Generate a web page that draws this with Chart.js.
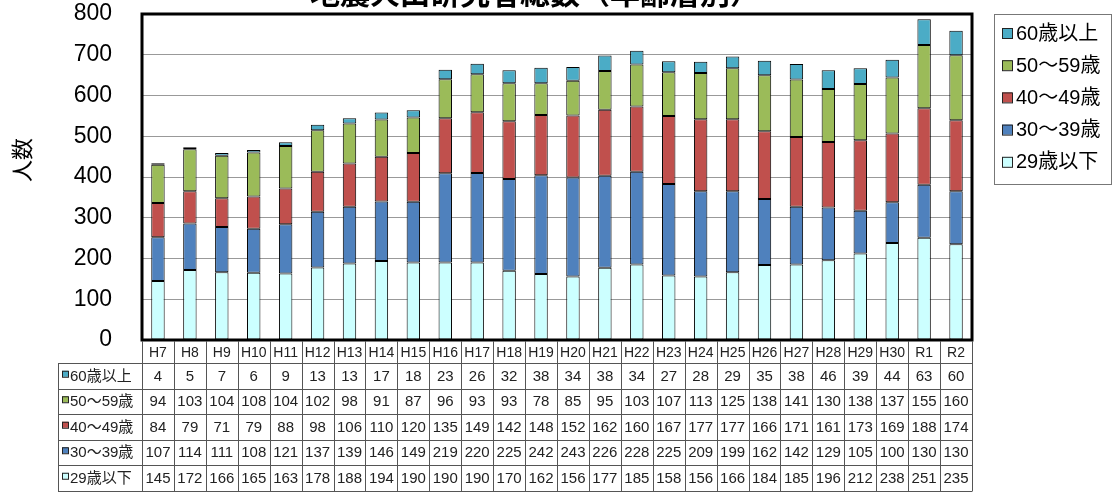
<!DOCTYPE html>
<html>
<head>
<meta charset="utf-8">
<script src="https://cdn.jsdelivr.net/npm/chart.js@4/dist/chart.umd.min.js"></script>
<style>
  html, body { margin: 0; padding: 0; background: #fff; }
  #wrap { width: 1118px; height: 493px; }
</style>
</head>
<body>
<div id="wrap"><canvas id="grafico"></canvas></div>
<script>
// ======== DADOS =========
const nendo = ['H7','H8','H9','H10','H11','H12','H13','H14','H15','H16','H17','H18','H19','H20','H21','H22','H23','H24','H25','H26','H27','H28','H29','H30','R1','R2'];
const age60 = [4,5,7,6,9,13,13,17,18,23,26,32,38,34,38,34,27,28,29,35,38,46,39,44,63,60];
const age50 = [94,103,104,108,104,102,98,91,87,96,93,93,78,85,95,103,107,113,125,138,141,130,138,137,155,160];
const age40 = [84,79,71,79,88,98,106,110,120,135,149,142,148,152,162,160,167,177,177,166,171,161,173,169,188,174];
const age30 = [107,114,111,108,121,137,139,146,149,219,220,225,242,243,226,228,225,209,199,162,142,129,105,100,130,130];
const age29 = [145,172,166,165,163,178,188,194,190,190,190,170,162,156,177,185,158,156,166,184,185,196,212,238,251,235];
const yTicks = [0,100,200,300,400,500,600,700,800];

const FONT = '"Liberation Sans", "Noto Sans CJK JP", sans-serif';

// ======== PLUGINS =========
// título cortado no topo + título do eixo y
const titulosPlugin = {
  id: 'titulos',
  afterDraw(chart) {
    const c = chart.ctx;
    c.save();
    c.font = 'bold 30px "Noto Sans CJK JP", sans-serif';
    c.fillStyle = '#000';
    c.textAlign = 'center';
    c.textBaseline = 'alphabetic';
    c.fillText('地震火山研究者総数（年齢層別）', 535, 4);
    c.translate(22, 160);
    c.rotate(-Math.PI / 2);
    c.textBaseline = 'middle';
    c.font = '22px "Noto Sans CJK JP", sans-serif';
    c.fillText('人数', 0, 0);
    c.restore();
  }
};

// moldura da área do gráfico
const molduraPlugin = {
  id: 'moldura',
  afterDatasetsDraw(chart) {
    const a = chart.chartArea, c = chart.ctx;
    c.save();
    c.strokeStyle = '#000';
    c.lineWidth = 3;
    c.strokeRect(a.left, a.top, a.right - a.left, a.bottom - a.top);
    c.restore();
  }
};

// tabela de dados abaixo do gráfico
const tabelaPlugin = {
  id: 'tabela',
  afterDraw(chart) {
    const c = chart.ctx, x = chart.scales.x, a = chart.chartArea;
    const n = nendo.length;
    const colW = (a.right - a.left) / n;
    const headH = 22, rowH = 25.5;
    const labelLeft = 58;
    const top = a.bottom + 1;
    const ds = chart.data.datasets.slice().reverse();
    c.save();
    c.strokeStyle = '#555';
    c.lineWidth = 1;
    c.beginPath();
    c.moveTo(a.left, top + headH + 0.5);
    c.lineTo(a.right, top + headH + 0.5);
    for (let r = 0; r <= ds.length; r++) {
      const y = Math.round(top + headH + r * rowH) + 0.5;
      c.moveTo(labelLeft, y);
      c.lineTo(a.right, y);
    }
    const bottom = Math.round(top + headH + ds.length * rowH) + 0.5;
    for (let i = 0; i <= n; i++) {
      const xx = Math.round(a.left + i * colW) + 0.5;
      c.moveTo(xx, top);
      c.lineTo(xx, bottom);
    }
    c.moveTo(labelLeft + 0.5, top + headH);
    c.lineTo(labelLeft + 0.5, bottom);
    c.stroke();

    c.fillStyle = '#222';
    c.textAlign = 'center';
    c.textBaseline = 'middle';
    c.font = '14px ' + FONT;
    nendo.forEach((lab, i) => {
      c.fillText(lab, x.getPixelForValue(i), top + headH / 2 + 1);
    });
    c.font = '15px ' + FONT;
    ds.forEach((d, r) => {
      const yc = top + headH + r * rowH + rowH / 2 + 1;
      d.data.forEach((v, i) => c.fillText(String(v), x.getPixelForValue(i), yc));
      c.fillStyle = d.backgroundColor;
      c.fillRect(labelLeft + 4, yc - 6, 6, 6);
      c.strokeStyle = '#222';
      c.strokeRect(labelLeft + 4.5, yc - 5.5, 6, 6);
      c.fillStyle = '#222';
      c.textAlign = 'left';
      c.fillText(d.label, labelLeft + 12, yc);
      c.textAlign = 'center';
    });
    c.restore();
  }
};

// legenda com caixa
const legendaPlugin = {
  id: 'legenda',
  afterDraw(chart) {
    const c = chart.ctx;
    const ds = chart.data.datasets.slice().reverse();
    c.save();
    c.strokeStyle = '#777';
    c.lineWidth = 1;
    c.strokeRect(994.5, 14.5, 117, 170);
    c.font = '20px ' + FONT;
    c.textBaseline = 'middle';
    c.textAlign = 'left';
    ds.forEach((d, i) => {
      const yc = 33 + i * 32.2;
      c.fillStyle = d.backgroundColor;
      c.fillRect(1002, yc - 5, 10, 10);
      c.strokeStyle = '#222';
      c.strokeRect(1002.5, yc - 4.5, 10, 10);
      c.fillStyle = '#000';
      c.fillText(d.label, 1016, yc + 1);
    });
    c.restore();
  }
};

// ======== GRÁFICO =========
const ctx = document.getElementById('grafico');
const comum = { borderColor: '#000', borderWidth: 1, borderSkipped: false, barPercentage: 0.42, categoryPercentage: 1 };
new Chart(ctx, {
  type: 'bar',
  data: {
    labels: nendo,
    datasets: [
      { label: '29歳以下', data: age29, backgroundColor: '#CCFFFF', ...comum },
      { label: '30～39歳', data: age30, backgroundColor: '#4F81BD', ...comum },
      { label: '40～49歳', data: age40, backgroundColor: '#C0504D', ...comum },
      { label: '50～59歳', data: age50, backgroundColor: '#9BBB59', ...comum },
      { label: '60歳以上', data: age60, backgroundColor: '#4BACC6', ...comum }
    ]
  },
  options: {
    responsive: true,
    maintainAspectRatio: false,
    animation: false,
    layout: { padding: { top: 14, bottom: 153, right: 146, left: 0 } },
    plugins: {
      legend: { display: false },
      tooltip: { enabled: false }
    },
    scales: {
      x: {
        stacked: true,
        ticks: { display: false },
        grid: { display: false },
        border: { display: false },
        afterFit(scale) { scale.height = 0; }
      },
      y: {
        stacked: true,
        min: 0,
        max: 800,
        afterBuildTicks(scale) { scale.ticks = yTicks.map(v => ({ value: v })); },
        afterFit(scale) {
          scale.width = 142;
          scale.paddingTop = 0;
          scale.paddingBottom = 0;
        },
        ticks: {
          color: '#000',
          padding: 30,
          font: { family: FONT, size: 23 }
        },
        grid: { color: '#999', drawTicks: false },
        border: { display: false }
      }
    }
  },
  plugins: [molduraPlugin, tabelaPlugin, legendaPlugin, titulosPlugin]
});
</script>
</body>
</html>
